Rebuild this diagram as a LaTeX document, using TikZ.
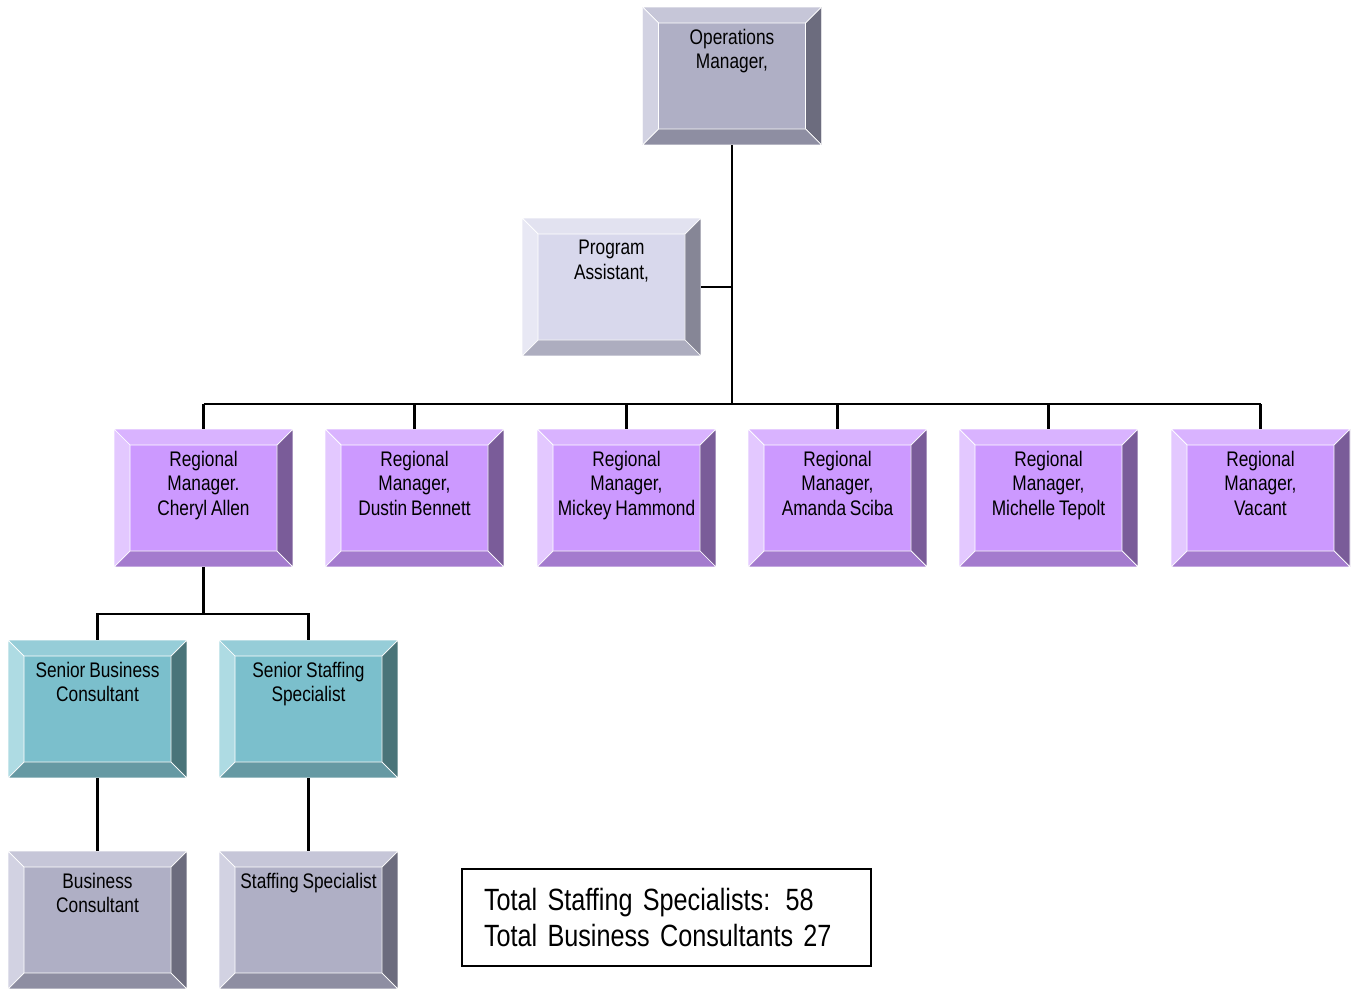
\documentclass[tikz,border=0pt]{standalone}
\usepackage{fontspec}
\setmainfont[FakeStretch=0.82,WordSpace=0.8]{Liberation Sans}
\usetikzlibrary{calc}
\definecolor{grayface}{HTML}{AFAFC5}\definecolor{graytop}{HTML}{C6C6D8}
\definecolor{grayleft}{HTML}{D2D2E2}\definecolor{grayright}{HTML}{6C6C7E}
\definecolor{graybot}{HTML}{8E8EA2}
\definecolor{paleface}{HTML}{D8D8EC}\definecolor{paletop}{HTML}{E2E2F0}
\definecolor{paleleft}{HTML}{E8E8F4}\definecolor{paleright}{HTML}{868696}
\definecolor{palebot}{HTML}{ADADBF}
\definecolor{purpface}{HTML}{CC99FF}\definecolor{purptop}{HTML}{D9B3FF}
\definecolor{purpleft}{HTML}{E3C8FF}\definecolor{purpright}{HTML}{7A5C99}
\definecolor{purpbot}{HTML}{A47BCE}
\definecolor{tealface}{HTML}{7BBFCC}\definecolor{tealtop}{HTML}{96CDD8}
\definecolor{tealleft}{HTML}{AEDBE3}\definecolor{tealright}{HTML}{4A7479}
\definecolor{tealbot}{HTML}{6699A3}
\newcommand\boxlabel[1]{\parbox[c][2.76cm][t]{3.58cm}{\centering\vspace*{0.44cm}#1\par}}
\tikzset{
  bevelbox/.style n args={5}{fill=#1, minimum width=3.58cm, minimum height=2.76cm,
    inner sep=0pt, font=\fontsize{12}{14}\selectfont,
    path picture={
      \path (path picture bounding box.north west) coordinate (bvA)
            (path picture bounding box.south east) coordinate (bvB);
      \filldraw[#2,draw=white] (bvA) -- (bvA -| bvB) -- ($(bvA -| bvB)+(-.32cm,-.32cm)$) -- ($(bvA)+(.32cm,-.32cm)$) -- cycle;
      \filldraw[#3,draw=white] (bvA) -- (bvA |- bvB) -- ($(bvA |- bvB)+(.32cm,.32cm)$) -- ($(bvA)+(.32cm,-.32cm)$) -- cycle;
      \filldraw[#4,draw=white] (bvB) -- (bvA -| bvB) -- ($(bvA -| bvB)+(-.32cm,-.32cm)$) -- ($(bvB)+(-.32cm,.32cm)$) -- cycle;
      \filldraw[#5,draw=white] (bvB) -- (bvA |- bvB) -- ($(bvA |- bvB)+(.32cm,.32cm)$) -- ($(bvB)+(-.32cm,.32cm)$) -- cycle;
    }},
  graybox/.style={bevelbox={grayface}{graytop}{grayleft}{grayright}{graybot}},
  palebox/.style={bevelbox={paleface}{paletop}{paleleft}{paleright}{palebot}},
  purpbox/.style={bevelbox={purpface}{purptop}{purpleft}{purpright}{purpbot}},
  tealbox/.style={bevelbox={tealface}{tealtop}{tealleft}{tealright}{tealbot}},
  conn/.style={line width=1.3pt}
}
\begin{document}
\begin{tikzpicture}[x=0.02cm,y=-0.02cm]
\useasboundingbox (0,0) rectangle (1355,990);
% top
\node[graybox] (ops) at (732,76) {\boxlabel{Operations\\Manager,}};
\node[palebox] (pa) at (611.5,287) {\boxlabel{Program\\Assistant,}};
% regional managers
\node[purpbox] (rm1) at (203.5,498) {\boxlabel{Regional\\Manager.\\Cheryl Allen}};
\node[purpbox] (rm2) at (414.5,498) {\boxlabel{Regional\\Manager,\\Dustin Bennett}};
\node[purpbox] (rm3) at (626.5,498) {\boxlabel{Regional\\Manager,\\Mickey Hammond}};
\node[purpbox] (rm4) at (837.5,498) {\boxlabel{Regional\\Manager,\\Amanda Sciba}};
\node[purpbox] (rm5) at (1048.5,498) {\boxlabel{Regional\\Manager,\\Michelle Tepolt}};
\node[purpbox] (rm6) at (1260.5,498) {\boxlabel{Regional\\Manager,\\Vacant}};
% consultants
\node[tealbox] (sbc) at (97.5,709) {\boxlabel{Senior Business\\Consultant}};
\node[tealbox] (sss) at (308.5,709) {\boxlabel{Senior Staffing\\Specialist}};
\node[graybox] (bc) at (97.5,920) {\boxlabel{Business\\Consultant}};
\node[graybox] (ss) at (308.5,920) {\boxlabel{Staffing Specialist}};
% totals
\node[draw,line width=1pt,minimum width=8.18cm,minimum height=1.94cm,
  text width=7.3cm,align=left,inner sep=0pt,font=\fontsize{17.5}{20.5}\selectfont]
  (total) at (666.5,917.5) {Total Staffing Specialists: 58\\Total Business Consultants 27};
% lines
\coordinate (bus) at (732,404);
\coordinate (sub) at (203.5,614);
\draw[conn] (ops.south) -- (bus);
\draw[conn] (pa.east) -- (pa.east -| ops.south);
\draw[conn] (rm1.north |- bus) -- (rm6.north |- bus);
\foreach \n in {rm1,rm2,rm3,rm4,rm5,rm6}
  \draw[conn] (\n.north) -- (\n.north |- bus);
\draw[conn] (rm1.south) -- (sub);
\draw[conn] (sbc.north) |- (sub) -| (sss.north);
\draw[conn] (sbc.south) -- (bc.north);
\draw[conn] (sss.south) -- (ss.north);
\end{tikzpicture}
\end{document}
